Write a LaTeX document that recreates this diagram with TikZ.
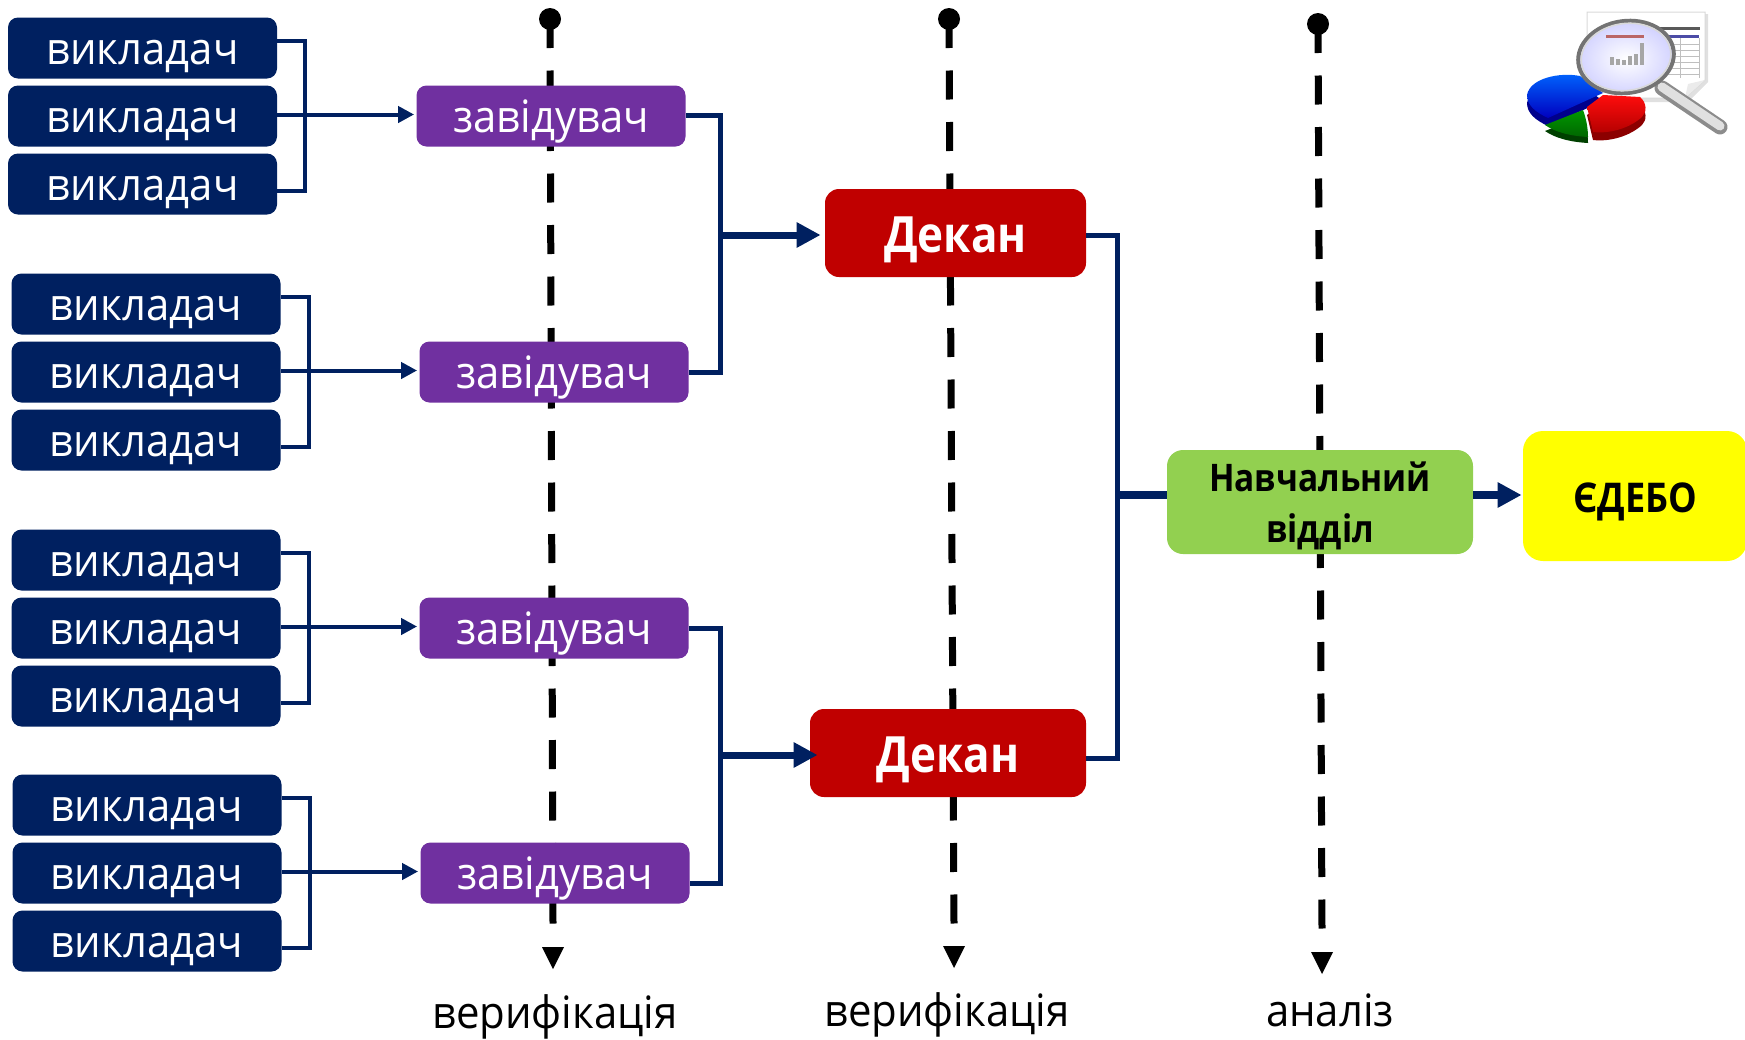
\documentclass[tikz,border=0pt]{standalone}
\usepackage{fontspec}
\setmainfont[FakeStretch=0.94]{Open Sans}
\newfontfamily\narrowbold[FakeStretch=0.88]{Open Sans}
\usetikzlibrary{arrows.meta,shadings}
\definecolor{navy}{HTML}{002060}
\definecolor{purp}{HTML}{7030A0}
\definecolor{redd}{HTML}{C00000}
\definecolor{grn}{HTML}{92D050}
\definecolor{yel}{HTML}{FFFF00}
\newcommand{\pxfont}[2]{\fontsize{#1}{#2}\selectfont}
\tikzset{
  x=0.5pt,y=-0.5pt,
  box/.style={rounded corners=5pt,inner sep=0pt,align=center},
  staff/.style={box,text=white,minimum width=134.5pt,minimum height=30.5pt,text height=16pt,text depth=0pt,font=\pxfont{22.3}{22.3}},
  teacher/.style={staff,fill=navy},
  head/.style={staff,fill=purp},
  dean/.style={box,fill=redd,text=white,minimum height=44pt,text height=19pt,text depth=0pt,rounded corners=7pt,font=\narrowbold\bfseries\pxfont{25}{25}},
  conn/.style={navy,line width=2pt},
  conn2/.style={navy,line width=2.5pt},
  thin arr/.style={conn,shorten >=1pt,-{Triangle[length=8pt,width=8pt]}},
  thick arr/.style={navy,line width=3.5pt,shorten >=2pt,-{Triangle[length=12pt,width=12pt]}},
  dashline/.style={black,line width=3.5pt,dash pattern=on 14.5pt off 11.25pt},
  dot/.style={circle,fill=black,inner sep=0pt,minimum size=11pt},
  caption/.style={inner sep=0pt,text=black,font=\pxfont{22.3}{22.3}},
}
\begin{document}
\begin{tikzpicture}
\useasboundingbox (0,0) rectangle (1745,1039);
% vertical dashed flows
\node[dot] (a1) at (550,19) {};
\coordinate (e1) at (553,923.5);
\coordinate (b1) at (553,969);
\node[dot] (a2) at (949,19) {};
\coordinate (e2) at (954,923.5);
\coordinate (b2) at (954,968);
\node[dot] (a3) at (1318,24) {};
\coordinate (e3) at (1322,929);
\coordinate (b3) at (1322,974);
\foreach \i in {1,2,3}{
  \draw[dashline] (a\i.center) -- (e\i);
  \fill[black] (b\i) -- ++(-11,-22) -- ++(22,0) -- cycle;
}
% teachers
\foreach \n/\x/\y in {t11/142.5/48,t12/142.5/116,t13/142.5/184,
  t21/146/304,t22/146/372,t23/146/440,
  t31/146/560,t32/146/628,t33/146/696,
  t41/147/805,t42/147/873,t43/147/941}
  \node[teacher] (\n) at (\x,\y) {викладач};
% heads
\node[head] (z1) at (551,116) {завідувач};
\node[head] (z2) at (554,372) {завідувач};
\node[head] (z3) at (554,628) {завідувач};
\node[head] (z4) at (555,873) {завідувач};
% deans
\node[dean,minimum width=130.5pt] (d1) at (955.5,233) {Декан};
\node[dean,minimum width=138pt] (d2) at (948,753) {Декан};
% right
\node[box,fill=grn,text=black,minimum width=153pt,minimum height=52pt,rounded corners=8pt,font=\narrowbold\bfseries\pxfont{19}{25.6}] (nv) at (1320,502) {\rule{0pt}{19pt}Навчальний\\відділ};
\node[box,fill=yel,text=black,minimum width=112pt,minimum height=65pt,text height=16.2pt,text depth=0pt,rounded corners=10pt,font=\narrowbold\bfseries\pxfont{20.5}{20.5}] (ed) at (1635,496) {ЄДЕБО};
% captions
\node[caption] (c1) at (555,1017) {верифікація};
\node[caption] (c2) at (947,1015) {верифікація};
\node[caption] (c3) at (1330,1010) {аналіз};
% teacher brackets
\foreach \a/\b/\c/\z in {t11/t12/t13/z1,t21/t22/t23/z2,t31/t32/t33/z3,t41/t42/t43/z4}{
  \draw[conn] ([yshift=3.5pt]\a.east) -- ++(28,0) |- ([yshift=-3.5pt]\c.east);
  \draw[thin arr] ([yshift=.75pt]\b.east) -- ([yshift=.75pt]\z.west);
}
% head brackets
\draw[conn2] ([yshift=.5pt]z1.east) -- ++(35,0) |- (z2.east);
\coordinate (m1) at (721,235);
\draw[thick arr] (m1) -- (m1 -| d1.west);
\draw[conn2] (z3.east) -- ++(32,0) |- ([yshift=-5pt]z4.east);
\coordinate (m2) at (721,755);
\draw[thick arr,shorten >=-4pt] (m2) -- (m2 -| d2.west);
% dean bracket
\draw[conn2] ([yshift=-1pt]d1.east) -- ++(31,0) |- ([yshift=-2.5pt]d2.east);
\coordinate (m3) at (1117,495);
\draw[navy,line width=4pt] (m3) -- (m3 -| nv.west);
\draw[thick arr,line width=4pt,shorten >=.5pt] (m3 -| nv.east) -- (m3 -| ed.west);
% icon (drawn directly)
\fill[black!12] (1589,14) -- (1708,14) -- (1708,82) -- (1688,102) -- (1589,102) -- cycle;
\fill[white] (1587,12) -- (1705,12) -- (1705,80) -- (1685,98) -- (1587,98) -- cycle;
\draw[black!15,line width=.5pt] (1587,12) -- (1705,12) -- (1705,80) -- (1685,98) -- (1587,98) -- cycle;
\fill[black!8] (1685,98) -- (1688,84) -- (1705,80) -- cycle;
\fill[black!65] (1604,27) rectangle (1700,30);
\fill[blue!50!black!70] (1650,35) rectangle (1699,38);
\foreach \yy in {44,50,56,62,68,74}{\draw[black!25,line width=.3pt] (1650,\yy) -- (1699,\yy);}
\foreach \xx in {1662,1680,1699}{\draw[black!25,line width=.3pt] (\xx,38) -- (\xx,78);}
% pie sides
\fill[blue!55!black,yshift=-4pt]
  (1527,95) .. controls (1530,78) and (1560,72) .. (1580,76) -- (1603,93) -- (1548,118) .. controls (1535,112) and (1527,105) .. cycle;
\fill[red!55!black,yshift=-4pt]
  (1587,107) -- (1603,95) -- (1640,97) .. controls (1647,103) and (1647,112) .. (1642,117) .. controls (1630,128) and (1610,134) .. (1593,132) -- cycle;
\fill[green!25!black,yshift=-3pt]
  (1545,125) -- (1583,110) .. controls (1586,118) and (1588,128) .. (1588,137) .. controls (1570,136) and (1555,132) .. cycle;
% pie tops
\path[top color=blue!60!cyan,bottom color=blue!75!black]
  (1527,95) .. controls (1530,78) and (1560,72) .. (1580,76) -- (1603,93) -- (1548,118) .. controls (1535,112) and (1527,105) .. cycle;
\path[top color=red!95!white,bottom color=red!70!black]
  (1587,107) -- (1603,95) -- (1640,97) .. controls (1647,103) and (1647,112) .. (1642,117) .. controls (1630,128) and (1610,134) .. (1593,132) -- cycle;
\path[top color=green!60!black,bottom color=green!40!black]
  (1545,125) -- (1583,110) .. controls (1586,118) and (1588,128) .. (1588,137) .. controls (1570,136) and (1555,132) .. cycle;
% magnifier
\draw[line width=7.5pt,line cap=round,black!45] (1662,88) -- (1720,127);
\draw[line width=4.5pt,line cap=round,black!12] (1662,87) -- (1720,126);
\shade[inner color=white,outer color=blue!18!white,rotate around={8:(1626,57)}] (1626,57) ellipse [x radius=48,y radius=36];
\fill[red!55!black!60] (1606,35) rectangle (1644,38);
\foreach \xx/\hh in {1610/8,1616/6,1622/5,1628/9,1634/11,1640/22}{\fill[black!35] (\xx,65) rectangle ++(4,-\hh);}
\draw[black!55,line width=2pt,rotate around={8:(1626,57)}] (1626,57) ellipse [x radius=48,y radius=36];
\draw[black!15,line width=.8pt,rotate around={8:(1626,57)}] (1626,57) ellipse [x radius=45,y radius=33.5];
\end{tikzpicture}
\end{document}
